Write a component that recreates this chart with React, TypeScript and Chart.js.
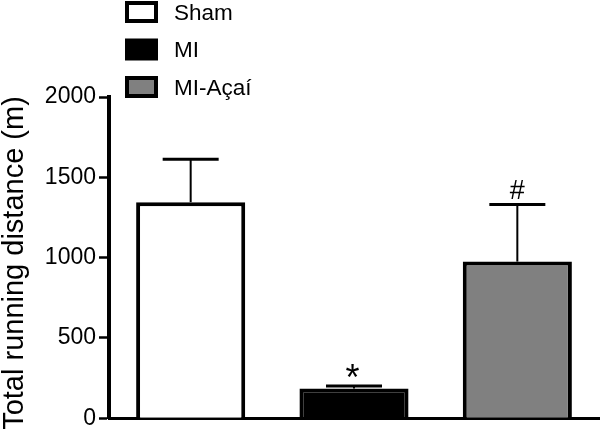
import React, { useEffect, useRef } from 'react';
import { Chart, registerables } from 'chart.js';

Chart.register(...registerables);

// ---- data ----
const categories = ['Sham', 'MI', 'MI-Açaí'];
const meanValues = [1345, 185, 975];
const semValues = [268, 15, 355];
const barColors = ['#ffffff', '#000000', '#808080'];
const significance = ['', '*', '#'];
const yAxisTitle = 'Total running distance (m)';
const yMin = 0;
const yMax = 2000;
const yStep = 500;

const FONT = "Arial, 'Liberation Sans', sans-serif";

const errorBarPlugin = {
  id: 'errorBars',
  afterDatasetsDraw(chart: any) {
    const ctx = chart.ctx;
    const meta = chart.getDatasetMeta(0);
    const y = chart.scales.y;
    ctx.save();
    ctx.strokeStyle = '#000';
    ctx.fillStyle = '#000';
    meta.data.forEach((bar: any, i: number) => {
      const x = bar.x;
      const yv = y.getPixelForValue(meanValues[i]);
      const ye = y.getPixelForValue(meanValues[i] + semValues[i]);
      ctx.lineWidth = 2;
      ctx.beginPath();
      ctx.moveTo(x, yv);
      ctx.lineTo(x, ye);
      ctx.stroke();
      ctx.lineWidth = 3;
      ctx.beginPath();
      ctx.moveTo(x - 28, ye);
      ctx.lineTo(x + 28, ye);
      ctx.stroke();
      const mark = significance[i];
      if (mark) {
        ctx.font = (mark === '*' ? '36px ' : '27px ') + FONT;
        ctx.textAlign = 'center';
        ctx.textBaseline = 'alphabetic';
        const m = ctx.measureText(mark);
        const target = ye - (mark === '*' ? 15 : 15);
        const base = target + (m.actualBoundingBoxAscent - m.actualBoundingBoxDescent) / 2;
        ctx.fillText(mark, x - (mark === '*' ? 1.5 : 0), base);
      }
    });
    ctx.restore();
  },
};

const legendAndTitlePlugin = {
  id: 'legendAndTitle',
  afterDraw(chart: any) {
    const ctx = chart.ctx;
    ctx.save();
    // legend
    const lw = 4;
    categories.forEach((name, i) => {
      const top = 1 + i * 37.5;
      ctx.fillStyle = barColors[i];
      ctx.strokeStyle = '#000';
      ctx.lineWidth = lw;
      ctx.beginPath();
      ctx.rect(125 + lw / 2, top + lw / 2, 33 - lw, 22 - lw);
      ctx.fill();
      ctx.stroke();
      ctx.fillStyle = '#000';
      ctx.font = '22.5px ' + FONT;
      ctx.textAlign = 'left';
      ctx.textBaseline = 'middle';
      ctx.fillText(name, 174, top + 12.5);
    });
    // y-axis title
    ctx.translate(23, 263);
    ctx.rotate(-Math.PI / 2);
    ctx.font = '29px ' + FONT;
    ctx.textAlign = 'center';
    ctx.textBaseline = 'alphabetic';
    ctx.fillStyle = '#000';
    ctx.fillText(yAxisTitle, 0, 0);
    ctx.restore();
  },
};

export default function App() {
  const ref = useRef<HTMLCanvasElement | null>(null);

  useEffect(() => {
    if (!ref.current) return;
    const chart = new Chart(ref.current, {
      type: 'bar',
      data: {
        labels: categories,
        datasets: [
          {
            data: meanValues,
            backgroundColor: barColors,
            borderColor: '#000',
            borderWidth: 4,
            barPercentage: 0.668,
            categoryPercentage: 1,
          },
        ],
      },
      options: {
        animation: false,
        responsive: true,
        maintainAspectRatio: false,
        layout: { padding: { top: 97, right: 1, left: 0, bottom: 0 } },
        plugins: {
          legend: { display: false },
          tooltip: { enabled: false },
          title: { display: false },
        },
        scales: {
          x: {
            ticks: { display: false },
            grid: { display: false },
            border: { display: true, color: '#000', width: 3 },
            afterFit(scale: any) {
              scale.height = 12;
            },
          },
          y: {
            min: yMin,
            max: yMax,
            ticks: {
              stepSize: yStep,
              color: '#000',
              padding: 3,
              font: { family: FONT, size: 23 },
              callback: (v: any) => String(v),
            },
            grid: {
              display: true,
              drawOnChartArea: false,
              drawTicks: true,
              tickLength: 10,
              tickWidth: 2.5,
              tickColor: '#000',
            },
            border: { display: true, color: '#000', width: 4 },
            title: { display: false },
            afterFit(scale: any) {
              scale.width = 109;
            },
          },
        },
      },
      plugins: [errorBarPlugin, legendAndTitlePlugin],
    });
    return () => chart.destroy();
  }, []);

  return (
    <div style={{ position: 'absolute', left: 0, top: 0, width: 600, height: 435, background: '#fff' }}>
      <canvas ref={ref} />
    </div>
  );
}
